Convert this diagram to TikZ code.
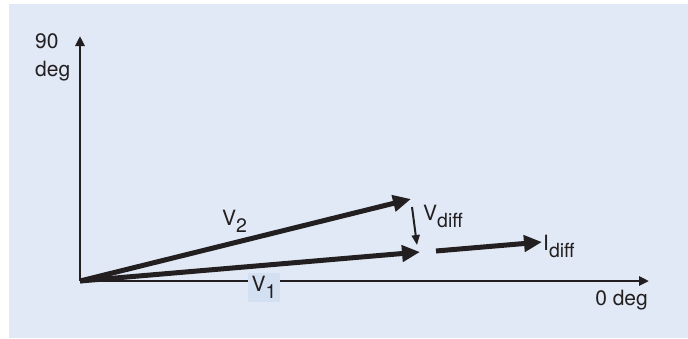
\documentclass[tikz,border=0pt]{standalone}
\usepackage{fontspec}
\setmainfont{TeX Gyre Heros}
\usepackage{xcolor}
\usepackage{tikz}
\usetikzlibrary{arrows.meta}

\definecolor{panelblue}{HTML}{E1E9F6}
\definecolor{tagblue}{HTML}{D3E0F2}
\definecolor{inkdark}{HTML}{231F20}

\newcommand{\lowsub}[1]{\raisebox{-7.5pt}{\fontsize{19.5}{20}\selectfont #1}}

\begin{document}
\begin{tikzpicture}[
  x=1pt, y=-1pt,
  font=\fontsize{21}{25}\selectfont,
  axis/.style={draw=inkdark, line width=2.6pt, -{Triangle[length=10pt,width=9pt]}},
  vec/.style={draw=inkdark, line width=5pt, -{Triangle[length=18pt,width=16pt]}},
  thinvec/.style={draw=inkdark, line width=2pt, -{Triangle[length=10pt,width=8pt]}},
  lbl/.style={text=inkdark, inner sep=0pt}
]
\useasboundingbox (0,0) rectangle (688,338);
\fill[panelblue] (9,4) rectangle (688,338);

% axes
\coordinate (O) at (80,281);
\coordinate (ytop) at (80,36);
\coordinate (xend) at (649,281);
\draw[axis] (O) -- (ytop);
\draw[axis] (O) -- (xend);

\node[lbl, anchor=base west] (ninety) at (35,48) {90};
\node[lbl, anchor=base west] (degy) at (35,76) {deg};
\node[lbl, anchor=base east] (degx) at (648,305) {0 deg};

% phasors
\coordinate (v2end) at (411,199);
\coordinate (v1end) at (420,252);
\draw[vec] (O) -- (v2end);
\draw[vec] (O) -- (v1end);

\coordinate (vdtop) at (412,207);
\coordinate (vdbot) at (417,245);
\draw[thinvec] (vdtop) -- (vdbot);

\coordinate (idstart) at (436,251);
\coordinate (idend) at (542,242);
\draw[vec] (idstart) -- (idend);

% labels
\node[lbl, anchor=base west] (vtwo) at (222,225) {V\lowsub{2}};
\node[lbl, fill=tagblue, inner xsep=4pt, minimum height=29pt] (vone) at (264,287.5) {V\lowsub{1}};
\node[lbl, anchor=base west] (vdiff) at (423,220) {V\lowsub{diff}};
\node[lbl, anchor=base west] (idiff) at (543,250) {I\lowsub{diff}};

\end{tikzpicture}
\end{document}
